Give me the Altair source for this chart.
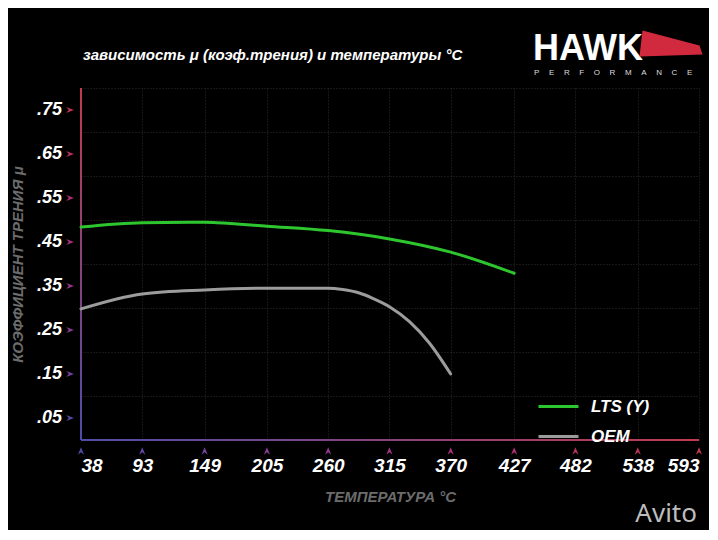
import altair as alt
import pandas as pd

# ---- data ----
temp_ticks = [38, 93, 149, 205, 260, 315, 370, 427, 482, 538, 593]
mu_ticks = [0.05, 0.15, 0.25, 0.35, 0.45, 0.55, 0.65, 0.75]
mu_labels = [".05", ".15", ".25", ".35", ".45", ".55", ".65", ".75"]
mu_grid = [0.0, 0.05, 0.1, 0.15, 0.2, 0.25, 0.3, 0.35, 0.4, 0.45, 0.5, 0.55,
           0.6, 0.65, 0.7, 0.75, 0.8]

series_names = ["LTS (Y)", "OEM"]
series_colors = ["#2ec62e", "#9c9c9c"]

lts_temp = [38, 93, 149, 160, 205, 260, 315, 370, 427]
lts_mu = [0.484, 0.494, 0.495, 0.494, 0.486, 0.476, 0.457, 0.427, 0.379]

oem_temp = [38, 93, 149, 205, 260, 273, 288, 300, 315, 333, 351, 370]
oem_mu = [0.298, 0.332, 0.341, 0.345, 0.345, 0.342, 0.334, 0.322, 0.303, 0.269, 0.220, 0.150]

title_text = "зависимость μ (коэф.трения) и температуры °C"
x_title = "ТЕМПЕРАТУРА °C"
y_title = "КОЭФФИЦИЕНТ ТРЕНИЯ μ"

FONT = "Liberation Sans, Arial, sans-serif"
BLUE = "#4f4ca8"
RED = "#c23a4e"

lines_df = pd.concat([
    pd.DataFrame({"temp": lts_temp, "mu": lts_mu, "series": series_names[0]}),
    pd.DataFrame({"temp": oem_temp, "mu": oem_mu, "series": series_names[1]}),
])

ychev_df = pd.DataFrame({"mu": mu_ticks, "label": mu_labels, "t": [m / 0.8 for m in mu_ticks]})
xchev_df = pd.DataFrame({"temp": temp_ticks,
                         "t": [(t - temp_ticks[0]) / (temp_ticks[-1] - temp_ticks[0]) for t in temp_ticks]})

x_scale = alt.Scale(domain=[temp_ticks[0], temp_ticks[-1]], nice=False, zero=False)
y_scale = alt.Scale(domain=[0, 0.8], nice=False, zero=False)

x_axis = alt.Axis(values=temp_ticks, format="d", title=x_title, domain=False, ticks=False,
                  grid=True, gridColor="#2c2c2c", gridDash=[1, 2], gridWidth=1,
                  labelColor="white", labelFont=FONT, labelFontSize=19, labelFontStyle="italic",
                  labelFontWeight="bold", labelPadding=16, labelOverlap=False,
                  titleColor="#6c6c6c", titleFont=FONT, titleFontSize=15, titleFontStyle="italic",
                  titleFontWeight="bold", titlePadding=14)

y_axis = alt.Axis(values=mu_grid, title=y_title, domain=False, ticks=False, labels=False,
                  grid=True, gridColor="#2c2c2c", gridDash=[1, 2], gridWidth=1,
                  titleColor="#6c6c6c", titleFont=FONT, titleFontSize=15, titleFontStyle="italic",
                  titleFontWeight="bold", titlePadding=56)

lines = alt.Chart(lines_df).mark_line(strokeWidth=3, interpolate="monotone", strokeCap="round").encode(
    x=alt.X("temp:Q", scale=x_scale, axis=x_axis),
    y=alt.Y("mu:Q", scale=y_scale, axis=y_axis),
    color=alt.Color("series:N",
                    scale=alt.Scale(domain=series_names, range=series_colors),
                    legend=alt.Legend(orient="none", legendX=456, legendY=297, title=None,
                                      symbolType="stroke", symbolSize=1600, symbolStrokeWidth=3,
                                      labelColor="white", labelFont=FONT, labelFontSize=17,
                                      labelFontStyle="italic", labelFontWeight="bold",
                                      labelOffset=11, rowPadding=-18)),
)

one = alt.Data(values=[{}])

y_axis_line = alt.Chart(one).mark_rect(
    xOffset=-1, x2Offset=1,
    fill={"gradient": "linear", "x1": 0, "x2": 0, "y1": 0, "y2": 1,
          "stops": [{"offset": 0, "color": RED}, {"offset": 1, "color": BLUE}]},
).encode(x=alt.datum(temp_ticks[0]), x2=alt.datum(temp_ticks[0]), y=alt.datum(0.0), y2=alt.datum(0.8))

x_axis_line = alt.Chart(one).mark_rect(
    yOffset=1, y2Offset=-1,
    fill={"gradient": "linear", "x1": 0, "x2": 1, "y1": 0, "y2": 0,
          "stops": [{"offset": 0, "color": BLUE}, {"offset": 1, "color": RED}]},
).encode(x=alt.datum(temp_ticks[0]), x2=alt.datum(temp_ticks[-1]), y=alt.datum(0.0), y2=alt.datum(0.0))

chev_fill = alt.Scale(domain=[0, 1], range=[BLUE, RED])

y_chev = alt.Chart(ychev_df).mark_point(
    shape="M-1,-0.8L1,0L-1,0.8L-0.3,0Z", filled=True, opacity=1, size=60, xOffset=-11
).encode(x=alt.datum(temp_ticks[0]), y="mu:Q", fill=alt.Fill("t:Q", scale=chev_fill, legend=None))

y_labels = alt.Chart(ychev_df).mark_text(
    font=FONT, fontSize=18, fontStyle="italic", fontWeight="bold", color="white",
    align="right", baseline="middle", xOffset=-19
).encode(x=alt.datum(temp_ticks[0]), y="mu:Q", text="label:N")

x_chev = alt.Chart(xchev_df).mark_point(
    shape="M-0.8,1L0,-1L0.8,1L0,0.3Z", filled=True, opacity=1, size=60, yOffset=11
).encode(x="temp:Q", y=alt.datum(0.0), fill=alt.Fill("t:Q", scale=chev_fill, legend=None))

title = alt.Chart(one).mark_text(
    text=title_text, font=FONT, fontSize=15, fontStyle="italic", fontWeight="bold",
    color="white", align="left", baseline="alphabetic"
).encode(x=alt.value(2), y=alt.value(-28))

hawk = alt.Chart(one).mark_text(
    text="HAWK", font="Liberation Sans, Arial, sans-serif", fontSize=36, fontWeight="bold",
    color="white", align="left", baseline="alphabetic"
).encode(x=alt.value(452), y=alt.value(-28))

wedge = alt.Chart(one).mark_point(
    shape="M-0.95,-0.45L0.95,0.05L1.05,0.35L-1.05,0.42Z", filled=True, opacity=1,
    size=3600, color="#d12a3e"
).encode(x=alt.value(590), y=alt.value(-44))

performance = alt.Chart(one).mark_text(
    text="\u2003\u2009".join("PERFORMANCE"), font="Liberation Sans, Arial, sans-serif", fontSize=8,
    color="#dddddd", align="left", baseline="alphabetic"
).encode(x=alt.value(453), y=alt.value(-13))

avito = alt.Chart(one).mark_text(
    text="Avito", font="Noto Sans, DejaVu Sans, sans-serif", fontSize=26,
    color="#bdbdbd", align="right", baseline="alphabetic"
).encode(x=alt.value(616), y=alt.value(434))

chart = alt.layer(
    y_axis_line, x_axis_line, lines, y_chev, y_labels, x_chev, title, hawk, wedge, performance, avito
).properties(
    width=618, height=352,
    padding={"left": 73, "top": 80, "right": 10, "bottom": 90},
    autosize=alt.AutoSizeParams(type="none"),
).configure(background="#000000").configure_view(stroke=None)

chart.save("out.html", embed_options={"renderer": "svg", "actions": False})
